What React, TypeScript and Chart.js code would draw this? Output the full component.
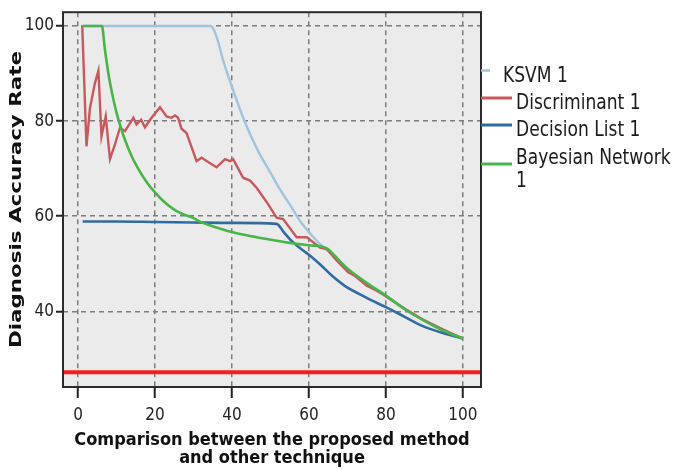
import React, { useEffect, useRef } from "react";
import { Chart, registerables } from "chart.js";

Chart.register(...registerables);

// ---------- data ----------
const seriesNames = ["KSVM 1", "Discriminant 1", "Decision List 1", "Bayesian Network 1"];
const xTickValues = [0, 20, 40, 60, 80, 100];
const yTickValues = [40, 60, 80, 100];

const ksvmX = [1, 34.3, 35.3, 36.3, 37.7, 40.3, 43.4, 46.8, 49.9, 52.5, 55, 57.7, 60.7, 63.6, 65, 70, 75, 80, 85, 90, 95, 100];
const ksvmY = [100, 100, 99.2, 97, 92.8, 86.5, 79.7, 73.7, 69.3, 65.6, 62.5, 59, 56, 53.6, 52.7, 48.6, 45.6, 43.1, 40.5, 38.1, 36.1, 34.3];

const discX = [1.1, 2.2, 3.1, 4.4, 5.3, 6.1, 7.2, 8.3, 9.6, 10.9, 12.2, 14.4, 15.2, 16.4, 17.4, 19.1, 21.3, 23, 24.3, 25.2, 26, 26.9, 28.2, 30.8, 32.1, 33.4, 36, 38.2, 39.5, 40.3, 42.9, 44.7, 46.4, 49, 51.6, 53.3, 56.8, 59.4, 62.9, 64.6, 67.2, 70.2, 71.9, 75, 77.6, 80, 85, 90, 95, 100];
const discY = [100, 74.7, 82.7, 88, 90.6, 76.8, 81, 72, 75.1, 78.6, 77.9, 80.7, 79.3, 80.3, 78.7, 80.7, 82.9, 81, 80.7, 81.2, 80.7, 78.4, 77.5, 71.6, 72.3, 71.6, 70.3, 72, 71.6, 72, 68.1, 67.5, 66, 63, 59.7, 59.4, 55.6, 55.6, 53.4, 53.1, 50.7, 48.2, 47.5, 45.4, 44.4, 43.2, 40.5, 38.1, 36.1, 34.3];

const declX = [1.2, 10, 20, 30, 40, 51.6, 53.5, 55.5, 58.5, 60.3, 63, 66, 69.8, 73, 76, 80, 85, 89.6, 95, 100];
const declY = [58.9, 58.9, 58.8, 58.7, 58.6, 58.4, 56.6, 54.8, 52.8, 51.7, 49.8, 47.5, 45.1, 43.7, 42.4, 40.9, 38.8, 36.9, 35.4, 34.3];

const bayesX = [1.2, 6.2, 7, 8, 9, 10, 11, 12, 14, 16, 18, 20, 22, 25, 28, 30, 32, 35, 40, 45, 49, 55, 60, 64.5, 68, 70, 75, 80, 85, 90, 95, 100];
const bayesY = [100, 100, 95, 89.5, 85.3, 81.8, 79, 76.5, 72.5, 69.5, 67, 65, 63.3, 61.4, 60.2, 59.6, 58.7, 57.9, 56.7, 55.8, 55.2, 54.4, 53.9, 53.3, 50.6, 49, 46, 43.3, 40.4, 38, 35.9, 34.3];

const baselineValue = 27.2;

// axis ranges
const X_MIN = -3.9;
const X_MAX = 104.7;
const Y_MIN = 24.1;
const Y_MAX = 102.9;

const colors = {
  ksvm: "#9fc4dd",
  disc: "#c9585d",
  decl: "#2f6ca2",
  bayes: "#49b548",
  baseline: "#f41f1f",
};

const zip = (xs: number[], ys: number[]) => xs.map((x, i) => ({ x, y: ys[i] }));

const FONT = "'DejaVu Sans Condensed', 'DejaVu Sans', sans-serif";

export default function App() {
  const ref = useRef<HTMLCanvasElement | null>(null);

  useEffect(() => {
    if (!ref.current) return;

    const bgPlugin = {
      id: "plotBg",
      beforeDraw(chart: any) {
        const { ctx, chartArea: a } = chart;
        ctx.save();
        ctx.fillStyle = "#ffffff";
        ctx.fillRect(0, 0, chart.width, chart.height);
        ctx.fillStyle = "#ebebeb";
        ctx.fillRect(a.left, a.top, a.right - a.left, a.bottom - a.top);
        ctx.restore();
      },
      afterDraw(chart: any) {
        const { ctx, chartArea: a } = chart;
        ctx.save();
        // frame
        ctx.strokeStyle = "#2b2b2b";
        ctx.lineWidth = 2;
        ctx.strokeRect(a.left, a.top, a.right - a.left, a.bottom - a.top);

        // y title
        ctx.save();
        ctx.translate(21, (a.top + a.bottom) / 2);
        ctx.rotate(-Math.PI / 2);
        ctx.font = "bold 21px 'DejaVu Sans', sans-serif";
        const yTitle = "Diagnosis Accuracy Rate";
        const w = ctx.measureText(yTitle).width;
        ctx.scale(297 / w, 0.72);
        ctx.fillStyle = "#111";
        ctx.textAlign = "center";
        ctx.textBaseline = "alphabetic";
        ctx.fillText(yTitle, 0, 0);
        ctx.restore();

        // x title
        ctx.fillStyle = "#111";
        ctx.textAlign = "center";
        ctx.textBaseline = "alphabetic";
        ctx.font = `bold 18px ${FONT}`;
        const cx = (a.left + a.right) / 2;
        ctx.fillText("Comparison between the proposed method", cx, 445);
        ctx.fillText("and other technique", cx, 463);

        // legend
        const lx = a.right;
        const items = [
          { lines: [seriesNames[0]], color: colors.ksvm, ly: 70.5, len: 9, tx: 503, ty: [82], lw: 2.5 },
          { lines: [seriesNames[1]], color: colors.disc, ly: 98, len: 31, tx: 516, ty: [109], lw: 3 },
          { lines: [seriesNames[2]], color: colors.decl, ly: 125, len: 31, tx: 516, ty: [135.5], lw: 3 },
          { lines: ["Bayesian Network", "1"], color: colors.bayes, ly: 164, len: 31, tx: 516, ty: [164, 187], lw: 3 },
        ];
        ctx.textAlign = "left";
        ctx.font = `19px ${FONT}`;
        for (const it of items) {
          ctx.strokeStyle = it.color;
          ctx.lineWidth = it.lw;
          ctx.beginPath();
          ctx.moveTo(lx, it.ly);
          ctx.lineTo(lx + it.len, it.ly);
          ctx.stroke();
          ctx.fillStyle = "#1a1a1a";
          it.lines.forEach((t, i) => {
            ctx.save();
            ctx.translate(it.tx, it.ty[i]);
            ctx.scale(1, 1.12);
            ctx.fillText(t, 0, 0);
            ctx.restore();
          });
        }
        ctx.restore();
      },
    };

    const chart = new Chart(ref.current, {
      type: "line",
      data: {
        datasets: [
          {
            label: seriesNames[3],
            data: zip(bayesX, bayesY),
            borderColor: colors.bayes,
            borderWidth: 2.6,
            pointRadius: 0,
            tension: 0.3,
            cubicInterpolationMode: "monotone",
            order: 1,
          },
          {
            label: seriesNames[1],
            data: zip(discX, discY),
            borderColor: colors.disc,
            borderWidth: 2.4,
            pointRadius: 0,
            tension: 0,
            order: 2,
          },
          {
            label: seriesNames[2],
            data: zip(declX, declY),
            borderColor: colors.decl,
            borderWidth: 2.6,
            pointRadius: 0,
            tension: 0.3,
            cubicInterpolationMode: "monotone",
            order: 3,
          },
          {
            label: seriesNames[0],
            data: zip(ksvmX, ksvmY),
            borderColor: colors.ksvm,
            borderWidth: 2.4,
            pointRadius: 0,
            tension: 0.3,
            cubicInterpolationMode: "monotone",
            order: 4,
          },
          {
            label: "baseline",
            data: [
              { x: X_MIN, y: baselineValue },
              { x: X_MAX, y: baselineValue },
            ],
            borderColor: colors.baseline,
            borderWidth: 4,
            pointRadius: 0,
            order: 5,
          },
        ],
      },
      options: {
        responsive: false,
        animation: false,
        events: [],
        layout: { padding: { top: 11, right: 199, left: 0, bottom: 0 } },
        plugins: { legend: { display: false }, tooltip: { enabled: false }, title: { display: false } },
        scales: {
          x: {
            type: "linear",
            min: X_MIN,
            max: X_MAX,
            afterBuildTicks: (s: any) => {
              s.ticks = xTickValues.map((v) => ({ value: v }));
            },
            afterFit: (s: any) => {
              s.height = 83;
            },
            ticks: {
              autoSkip: false,
              maxRotation: 0,
              color: "#222",
              font: { family: FONT, size: 17 },
              padding: 7,
            },
            grid: {
              color: "#7d7d7d",
              lineWidth: 1.5,
              drawTicks: true,
              tickLength: 11,
              tickColor: "#222",
              tickWidth: 2,
              tickBorderDash: [],
            },
            border: { display: false, dash: [5, 4] },
          },
          y: {
            type: "linear",
            min: Y_MIN,
            max: Y_MAX,
            afterBuildTicks: (s: any) => {
              s.ticks = yTickValues.map((v) => ({ value: v }));
            },
            afterFit: (s: any) => {
              s.width = 63;
            },
            ticks: {
              autoSkip: false,
              color: "#222",
              font: { family: FONT, size: 17 },
              padding: 2,
            },
            grid: {
              color: "#7d7d7d",
              lineWidth: 1.5,
              drawTicks: true,
              tickLength: 7,
              tickColor: "#222",
              tickWidth: 2,
              tickBorderDash: [],
            },
            border: { display: false, dash: [5, 4] },
          },
        },
      },
      plugins: [bgPlugin],
    } as any);

    return () => chart.destroy();
  }, []);

  return (
    <div style={{ position: "absolute", left: 0, top: 0, width: 680, height: 470, background: "#fff" }}>
      <canvas ref={ref} width={680} height={470} style={{ display: "block" }} />
    </div>
  );
}
